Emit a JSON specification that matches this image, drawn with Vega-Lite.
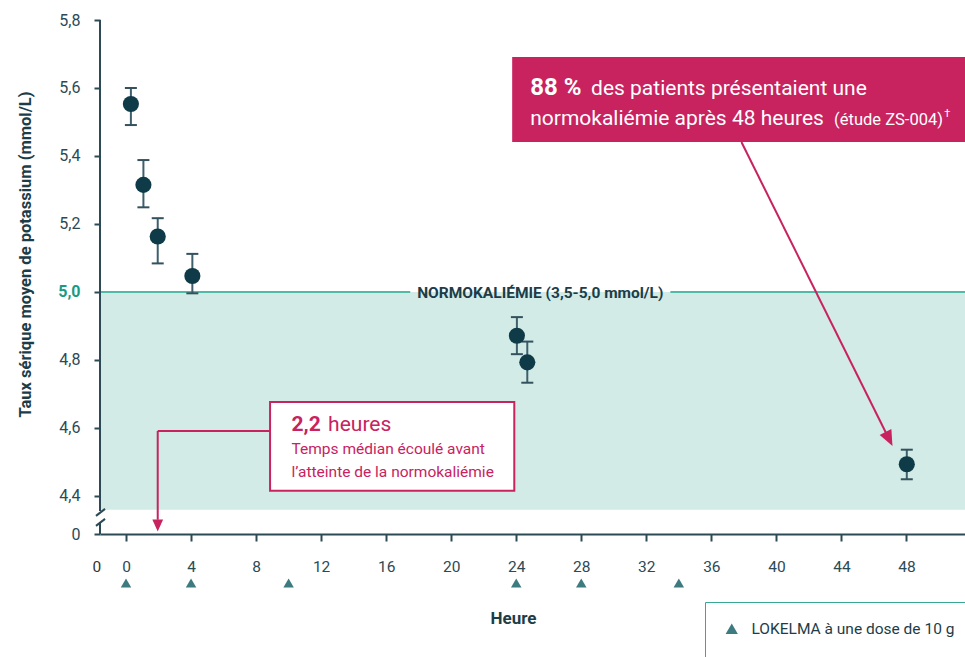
{
  "$schema": "https://vega.github.io/schema/vega-lite/v6.json",
  "width": 865,
  "height": 514,
  "autosize": {"type": "none"},
  "padding": {"left": 100, "top": 20, "right": 0, "bottom": 123},
  "background": "white",
  "config": {"font": "Roboto", "view": {"stroke": null}},
  "data": {"values": [{}]},
  "datasets": {
    "pts": [
      {"h": 0.3, "m": 5.553, "lo": 5.491, "hi": 5.6},
      {"h": 1.07, "m": 5.315, "lo": 5.249, "hi": 5.388},
      {"h": 1.95, "m": 5.163, "lo": 5.084, "hi": 5.217},
      {"h": 4.08, "m": 5.047, "lo": 4.996, "hi": 5.112},
      {"h": 24.04, "m": 4.871, "lo": 4.817, "hi": 4.926},
      {"h": 24.68, "m": 4.793, "lo": 4.733, "hi": 4.854},
      {"h": 48.02, "m": 4.493, "lo": 4.449, "hi": 4.536}
    ],
    "doses": [{"h": 0}, {"h": 4}, {"h": 10}, {"h": 24}, {"h": 28}, {"h": 34}]
  },
  "layer": [
    {
      "mark": {"type": "rect", "color": "#d2ebe7"},
      "encoding": {
        "x": {"datum": -1.6, "type": "quantitative", "scale": {"domain": [-1.6, 51.6], "nice": false, "zero": false},
          "axis": {"values": [0, 4, 8, 12, 16, 20, 24, 28, 32, 36, 40, 44, 48], "grid": false, "labelFlush": false,
            "domainColor": "#2c4a55", "domainWidth": 2, "tickColor": "#2c4a55", "tickWidth": 2, "tickSize": 7,
            "labelPadding": 18, "labelFontSize": 15.5, "labelColor": "#2c4a55",
            "title": "Heure", "titleFontSize": 17, "titleFontWeight": "bold", "titleColor": "#1c3d48",
            "titleX": 413, "titleY": 89, "titleBaseline": "alphabetic", "titleAlign": "center"}},
        "x2": {"datum": 51.6},
        "y": {"datum": 4.359, "type": "quantitative", "scale": {"domain": [4.288, 5.8], "nice": false, "zero": false},
          "axis": {"values": [4.288, 4.4, 4.6, 4.8, 5.0, 5.2, 5.4, 5.6, 5.8], "grid": false, "domain": false, "labelFlush": false,
            "labelExpr": "datum.value < 4.3 ? '0' : replace(format(datum.value, '.1f'), '.', ',')",
            "tickColor": "#2c4a55", "tickWidth": 2, "tickSize": 6, "labelPadding": 14, "labelFontSize": 16,
            "labelColor": {"condition": {"test": "datum.value == 5", "value": "#1b9a83"}, "value": "#2c4a55"},
            "labelFontWeight": {"condition": {"test": "datum.value == 5", "value": "bold"}, "value": "normal"},
            "title": "Taux sérique moyen de potassium (mmol/L)", "titleFontSize": 16.5, "titleFontWeight": "bold",
            "titleColor": "#1c3d48", "titleX": -75, "titleY": 234, "titleAlign": "center", "titleBaseline": "middle"}},
        "y2": {"datum": 5.0}
      }
    },
    {
      "mark": {"type": "rule", "color": "#52b9a6", "strokeWidth": 2},
      "encoding": {
        "x": {"datum": -1.6, "type": "quantitative", "scale": {"domain": [-1.6, 51.6], "nice": false, "zero": false}},
        "x2": {"datum": 17.48},
        "y": {"datum": 5.0, "type": "quantitative", "scale": {"domain": [4.288, 5.8], "nice": false, "zero": false}}
      }
    },
    {
      "mark": {"type": "rule", "color": "#52b9a6", "strokeWidth": 2},
      "encoding": {
        "x": {"datum": 33.48, "type": "quantitative", "scale": {"domain": [-1.6, 51.6], "nice": false, "zero": false}},
        "x2": {"datum": 51.6},
        "y": {"datum": 5.0, "type": "quantitative", "scale": {"domain": [4.288, 5.8], "nice": false, "zero": false}}
      }
    },
    {
      "mark": {"type": "text", "fontSize": 15.5, "fontWeight": "bold", "color": "#1c3d48", "align": "center", "baseline": "middle", "dy": 1},
      "encoding": {
        "x": {"datum": 25.48, "type": "quantitative", "scale": {"domain": [-1.6, 51.6], "nice": false, "zero": false}},
        "y": {"datum": 5.0, "type": "quantitative", "scale": {"domain": [4.288, 5.8], "nice": false, "zero": false}},
        "text": {"value": "NORMOKALIÉMIE (3,5-5,0 mmol/L)"}
      }
    },
    {
      "mark": {"type": "rule", "color": "#2c4a55", "strokeWidth": 2},
      "encoding": {
        "x": {"datum": -1.6, "type": "quantitative", "scale": {"domain": [-1.6, 51.6], "nice": false, "zero": false}},
        "y": {"datum": 5.8, "type": "quantitative", "scale": {"domain": [4.288, 5.8], "nice": false, "zero": false}},
        "y2": {"datum": 4.356}
      }
    },
    {
      "mark": {"type": "rule", "color": "#2c4a55", "strokeWidth": 2},
      "encoding": {
        "x": {"datum": -1.6, "type": "quantitative", "scale": {"domain": [-1.6, 51.6], "nice": false, "zero": false}},
        "y": {"datum": 4.3235, "type": "quantitative", "scale": {"domain": [4.288, 5.8], "nice": false, "zero": false}},
        "y2": {"datum": 4.288}
      }
    },
    {
      "mark": {"type": "rule", "color": "#2c4a55", "strokeWidth": 2},
      "encoding": {
        "x": {"datum": -1.846, "type": "quantitative", "scale": {"domain": [-1.6, 51.6], "nice": false, "zero": false}},
        "x2": {"datum": -1.29},
        "y": {"datum": 4.3412, "type": "quantitative", "scale": {"domain": [4.288, 5.8], "nice": false, "zero": false}},
        "y2": {"datum": 4.3618}
      }
    },
    {
      "mark": {"type": "rule", "color": "#2c4a55", "strokeWidth": 2},
      "encoding": {
        "x": {"datum": -1.846, "type": "quantitative", "scale": {"domain": [-1.6, 51.6], "nice": false, "zero": false}},
        "x2": {"datum": -1.29},
        "y": {"datum": 4.3118, "type": "quantitative", "scale": {"domain": [4.288, 5.8], "nice": false, "zero": false}},
        "y2": {"datum": 4.3324}
      }
    },
    {
      "data": {"name": "pts"},
      "mark": {"type": "rule", "color": "#3e5f6b", "strokeWidth": 2},
      "encoding": {
        "x": {"field": "h", "type": "quantitative", "scale": {"domain": [-1.6, 51.6], "nice": false, "zero": false}},
        "y": {"field": "lo", "type": "quantitative", "scale": {"domain": [4.288, 5.8], "nice": false, "zero": false}},
        "y2": {"field": "hi"}
      }
    },
    {
      "data": {"name": "pts"},
      "mark": {"type": "tick", "orient": "horizontal", "size": 12, "thickness": 2, "color": "#34525e", "opacity": 1},
      "encoding": {
        "x": {"field": "h", "type": "quantitative", "scale": {"domain": [-1.6, 51.6], "nice": false, "zero": false}},
        "y": {"field": "lo", "type": "quantitative", "scale": {"domain": [4.288, 5.8], "nice": false, "zero": false}}
      }
    },
    {
      "data": {"name": "pts"},
      "mark": {"type": "tick", "orient": "horizontal", "size": 12, "thickness": 2, "color": "#34525e", "opacity": 1},
      "encoding": {
        "x": {"field": "h", "type": "quantitative", "scale": {"domain": [-1.6, 51.6], "nice": false, "zero": false}},
        "y": {"field": "hi", "type": "quantitative", "scale": {"domain": [4.288, 5.8], "nice": false, "zero": false}}
      }
    },
    {
      "data": {"name": "pts"},
      "mark": {"type": "circle", "size": 260, "color": "#0f3a47", "opacity": 1},
      "encoding": {
        "x": {"field": "h", "type": "quantitative", "scale": {"domain": [-1.6, 51.6], "nice": false, "zero": false}},
        "y": {"field": "m", "type": "quantitative", "scale": {"domain": [4.288, 5.8], "nice": false, "zero": false}}
      }
    },
    {
      "mark": {"type": "rect", "color": "#c8225f"},
      "encoding": {
        "x": {"datum": 23.75, "type": "quantitative", "scale": {"domain": [-1.6, 51.6], "nice": false, "zero": false}},
        "x2": {"datum": 51.6},
        "y": {"datum": 5.691, "type": "quantitative", "scale": {"domain": [4.288, 5.8], "nice": false, "zero": false}},
        "y2": {"datum": 5.441}
      }
    },
    {
      "mark": {"type": "text", "fontSize": 24, "fontWeight": "bold", "color": "white", "align": "left", "baseline": "alphabetic"},
      "encoding": {
        "x": {"datum": 24.86, "type": "quantitative", "scale": {"domain": [-1.6, 51.6], "nice": false, "zero": false}},
        "y": {"datum": 5.5794, "type": "quantitative", "scale": {"domain": [4.288, 5.8], "nice": false, "zero": false}},
        "text": {"value": "88 %"}
      }
    },
    {
      "mark": {"type": "text", "fontSize": 21, "color": "white", "align": "left", "baseline": "alphabetic"},
      "encoding": {
        "x": {"datum": 28.6, "type": "quantitative", "scale": {"domain": [-1.6, 51.6], "nice": false, "zero": false}},
        "y": {"datum": 5.5794, "type": "quantitative", "scale": {"domain": [4.288, 5.8], "nice": false, "zero": false}},
        "text": {"value": "des patients présentaient une"}
      }
    },
    {
      "mark": {"type": "text", "fontSize": 21, "color": "white", "align": "left", "baseline": "alphabetic"},
      "encoding": {
        "x": {"datum": 24.86, "type": "quantitative", "scale": {"domain": [-1.6, 51.6], "nice": false, "zero": false}},
        "y": {"datum": 5.491, "type": "quantitative", "scale": {"domain": [4.288, 5.8], "nice": false, "zero": false}},
        "text": {"value": "normokaliémie après 48 heures"}
      }
    },
    {
      "mark": {"type": "text", "fontSize": 16.5, "color": "white", "align": "left", "baseline": "alphabetic"},
      "encoding": {
        "x": {"datum": 43.55, "type": "quantitative", "scale": {"domain": [-1.6, 51.6], "nice": false, "zero": false}},
        "y": {"datum": 5.491, "type": "quantitative", "scale": {"domain": [4.288, 5.8], "nice": false, "zero": false}},
        "text": {"value": "(étude ZS-004)"}
      }
    },
    {
      "mark": {"type": "text", "fontSize": 11, "color": "white", "align": "left", "baseline": "alphabetic"},
      "encoding": {
        "x": {"datum": 50.32, "type": "quantitative", "scale": {"domain": [-1.6, 51.6], "nice": false, "zero": false}},
        "y": {"datum": 5.515, "type": "quantitative", "scale": {"domain": [4.288, 5.8], "nice": false, "zero": false}},
        "text": {"value": "†"}
      }
    },
    {
      "mark": {"type": "rule", "color": "#c8225f", "strokeWidth": 2},
      "encoding": {
        "x": {"datum": 37.85, "type": "quantitative", "scale": {"domain": [-1.6, 51.6], "nice": false, "zero": false}},
        "x2": {"datum": 46.76},
        "y": {"datum": 5.441, "type": "quantitative", "scale": {"domain": [4.288, 5.8], "nice": false, "zero": false}},
        "y2": {"datum": 4.5838}
      }
    },
    {
      "mark": {"type": "point", "filled": true, "opacity": 1, "color": "#c8225f", "shape": "M0,0L-0.75,-1.8L0.75,-1.8Z", "size": 300, "angle": -26.5},
      "encoding": {
        "x": {"datum": 47.14, "type": "quantitative", "scale": {"domain": [-1.6, 51.6], "nice": false, "zero": false}},
        "y": {"datum": 4.547, "type": "quantitative", "scale": {"domain": [4.288, 5.8], "nice": false, "zero": false}}
      }
    },
    {
      "mark": {"type": "rule", "color": "#c8225f", "strokeWidth": 2},
      "encoding": {
        "x": {"datum": 1.95, "type": "quantitative", "scale": {"domain": [-1.6, 51.6], "nice": false, "zero": false}},
        "x2": {"datum": 8.86},
        "y": {"datum": 4.591, "type": "quantitative", "scale": {"domain": [4.288, 5.8], "nice": false, "zero": false}}
      }
    },
    {
      "mark": {"type": "rule", "color": "#c8225f", "strokeWidth": 2},
      "encoding": {
        "x": {"datum": 1.95, "type": "quantitative", "scale": {"domain": [-1.6, 51.6], "nice": false, "zero": false}},
        "y": {"datum": 4.591, "type": "quantitative", "scale": {"domain": [4.288, 5.8], "nice": false, "zero": false}},
        "y2": {"datum": 4.33}
      }
    },
    {
      "mark": {"type": "point", "filled": true, "opacity": 1, "color": "#c8225f", "shape": "M0,0L-0.8,-1.8L0.8,-1.8Z", "size": 180},
      "encoding": {
        "x": {"datum": 1.95, "type": "quantitative", "scale": {"domain": [-1.6, 51.6], "nice": false, "zero": false}},
        "y": {"datum": 4.295, "type": "quantitative", "scale": {"domain": [4.288, 5.8], "nice": false, "zero": false}}
      }
    },
    {
      "mark": {"type": "rect", "color": "white", "stroke": "#c8225f", "strokeWidth": 2},
      "encoding": {
        "x": {"datum": 8.86, "type": "quantitative", "scale": {"domain": [-1.6, 51.6], "nice": false, "zero": false}},
        "x2": {"datum": 23.88},
        "y": {"datum": 4.676, "type": "quantitative", "scale": {"domain": [4.288, 5.8], "nice": false, "zero": false}},
        "y2": {"datum": 4.415}
      }
    },
    {
      "mark": {"type": "text", "fontSize": 21, "fontWeight": "bold", "color": "#c8225f", "align": "left", "baseline": "alphabetic"},
      "encoding": {
        "x": {"datum": 10.18, "type": "quantitative", "scale": {"domain": [-1.6, 51.6], "nice": false, "zero": false}},
        "y": {"datum": 4.591, "type": "quantitative", "scale": {"domain": [4.288, 5.8], "nice": false, "zero": false}},
        "text": {"value": "2,2"}
      }
    },
    {
      "mark": {"type": "text", "fontSize": 21, "color": "#c8225f", "align": "left", "baseline": "alphabetic"},
      "encoding": {
        "x": {"datum": 12.43, "type": "quantitative", "scale": {"domain": [-1.6, 51.6], "nice": false, "zero": false}},
        "y": {"datum": 4.591, "type": "quantitative", "scale": {"domain": [4.288, 5.8], "nice": false, "zero": false}},
        "text": {"value": "heures"}
      }
    },
    {
      "mark": {"type": "text", "fontSize": 15.5, "color": "#c8225f", "align": "left", "baseline": "alphabetic"},
      "encoding": {
        "x": {"datum": 10.18, "type": "quantitative", "scale": {"domain": [-1.6, 51.6], "nice": false, "zero": false}},
        "y": {"datum": 4.5226, "type": "quantitative", "scale": {"domain": [4.288, 5.8], "nice": false, "zero": false}},
        "text": {"value": "Temps médian écoulé avant"}
      }
    },
    {
      "mark": {"type": "text", "fontSize": 15.5, "color": "#c8225f", "align": "left", "baseline": "alphabetic"},
      "encoding": {
        "x": {"datum": 10.18, "type": "quantitative", "scale": {"domain": [-1.6, 51.6], "nice": false, "zero": false}},
        "y": {"datum": 4.4568, "type": "quantitative", "scale": {"domain": [4.288, 5.8], "nice": false, "zero": false}},
        "text": {"value": "l’atteinte de la normokaliémie"}
      }
    },
    {
      "data": {"name": "doses"},
      "mark": {"type": "point", "filled": true, "opacity": 1, "color": "#3d7b80", "size": 110},
      "encoding": {
        "x": {"field": "h", "type": "quantitative", "scale": {"domain": [-1.6, 51.6], "nice": false, "zero": false}},
        "y": {"datum": 4.144, "type": "quantitative", "scale": {"domain": [4.288, 5.8], "nice": false, "zero": false}},
        "shape": {"datum": "LOKELMA à une dose de 10 g", "type": "nominal", "scale": {"range": ["triangle-up"]},
          "legend": {"orient": "none", "legendX": 605, "legendY": 582, "title": null, "strokeColor": "#3aa897",
            "fillColor": "white", "padding": 19, "labelFontSize": 15.5, "labelColor": "#1c3d48", "symbolSize": 150,
            "symbolFillColor": "#3d7b80", "symbolStrokeWidth": 0, "labelOffset": 12, "labelLimit": 0}}
      }
    },
    {
      "mark": {"type": "text", "fontSize": 15.5, "color": "#333333", "align": "center", "baseline": "alphabetic"},
      "encoding": {
        "x": {"datum": -1.8, "type": "quantitative", "scale": {"domain": [-1.6, 51.6], "nice": false, "zero": false}},
        "y": {"datum": 4.1765, "type": "quantitative", "scale": {"domain": [4.288, 5.8], "nice": false, "zero": false}},
        "text": {"value": "0"}
      }
    }
  ]
}
